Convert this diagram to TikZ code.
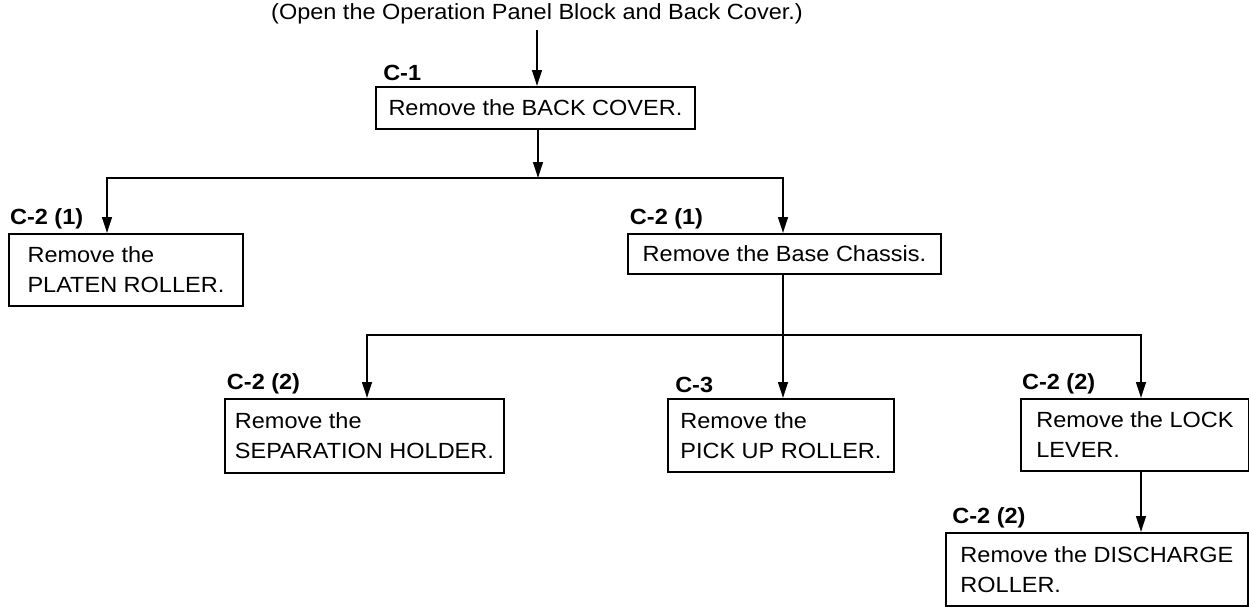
\documentclass[tikz,border=0pt]{standalone}
\usepackage{fontspec}
\setmainfont{Liberation Sans}[FakeStretch=1.07]
\usepackage{tikz}
\usetikzlibrary{arrows.meta,positioning,calc}

\begin{document}
\begin{tikzpicture}[x=0.02cm, y=-0.02cm,
  stepbox/.style={rectangle, draw, line width=1.1pt, anchor=north west, align=left, inner xsep=3pt, font=\fontsize{12.5}{17}\selectfont},
  tag/.style={font=\fontsize{12.5}{14}\selectfont\bfseries, inner sep=0pt},
  flow/.style={-{Triangle[length=9pt,width=5.5pt]}, line width=1.1pt},
  link/.style={line width=1.1pt}
]
\fill[white] (0,0) rectangle (1249,606);
\useasboundingbox (0,0) rectangle (1249,606);

\node[font=\fontsize{12.5}{14}\selectfont] (intro) at (537,14) {(Open the Operation Panel Block and Back Cover.)};

\node[stepbox, minimum width=6.38cm, minimum height=0.84cm] (back) at (375,86) {Remove the BACK COVER.};
\node[stepbox, minimum width=4.68cm, minimum height=1.44cm] (platen) at (8,233) {Remove the\\PLATEN ROLLER.};
\node[stepbox, minimum width=6.26cm, minimum height=0.8cm] (chassis) at (627,233) {Remove the Base Chassis.};
\node[stepbox, minimum width=5.58cm, minimum height=1.48cm] (sep) at (224,398) {Remove the\\SEPARATION HOLDER.};
\node[stepbox, minimum width=4.52cm, minimum height=1.46cm] (pick) at (667,398) {Remove the\\PICK UP ROLLER.};
\node[stepbox, minimum width=4.56cm, minimum height=1.44cm] (lock) at (1020,398) {Remove the LOCK\\LEVER.};
\node[stepbox, minimum width=6.04cm, minimum height=1.46cm] (discharge) at (945,532) {Remove the DISCHARGE\\ROLLER.};

\node[tag, above right=3pt and 4.5pt of back.north west] (tback) {C-1};
\node[tag, above right=2pt and 1pt of platen.north west] (tplaten) {C-2 (1)};
\node[tag, above right=2pt and 1.5pt of chassis.north west] (tchassis) {C-2 (1)};
\node[tag, above right=2pt and 1.5pt of sep.north west] (tsep) {C-2 (2)};
\node[tag, above right=3pt and 4.5pt of pick.north west] (tpick) {C-3};
\node[tag, above right=2pt and 1pt of lock.north west] (tlock) {C-2 (2)};
\node[tag, above right=2pt and 4pt of discharge.north west] (tdischarge) {C-2 (2)};

\coordinate (fork1) at (538,178);
\coordinate (fork1l) at (107,178);
\coordinate (fork1r) at (783,178);
\coordinate (fork2) at (783,335);
\coordinate (fork2l) at (367,335);
\coordinate (fork2r) at (1141,335);

\draw[flow] (intro.south) -- (intro.south |- back.north);
\draw[flow] (fork1 |- back.south) -- (fork1);
\draw[flow] (fork1) -| (fork1l |- platen.north);
\draw[flow] (fork1) -| (fork1r |- chassis.north);
\draw[flow] (fork2 |- chassis.south) -- (fork2 |- pick.north);
\draw[flow] (fork2) -| (fork2l |- sep.north);
\draw[flow] (fork2) -| (fork2r |- lock.north);
\draw[flow] (fork2r |- lock.south) -- (fork2r |- discharge.north);
\end{tikzpicture}
\end{document}
